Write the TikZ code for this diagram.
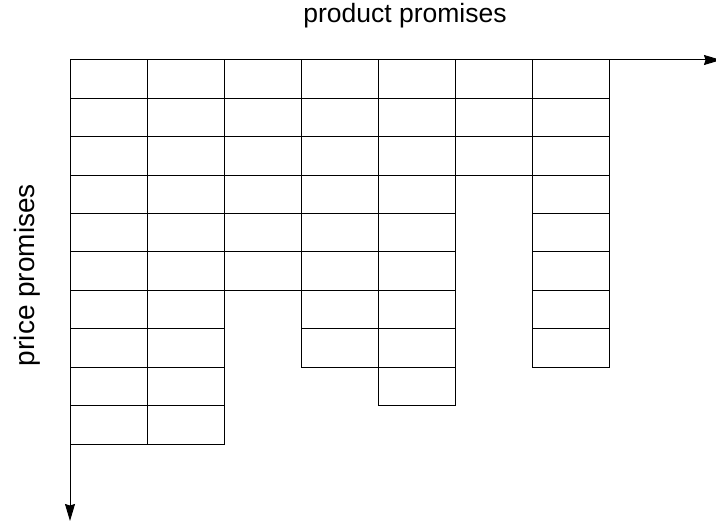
\documentclass[tikz,border=0pt]{standalone}
\usepackage{fontspec}
\setmainfont{Liberation Sans}
\usetikzlibrary{arrows.meta}
\begin{document}
\begin{tikzpicture}[x=1pt,y=1pt,
  cell/.style={draw=black, line width=1pt, inner sep=0pt, outer sep=0pt,
    minimum width=77.14pt, minimum height=38.4pt, anchor=north west},
  axis/.style={draw=black, line width=1pt, -{Stealth[length=17pt,width=10pt,inset=1.5pt]}},
  axislabel/.style={font=\fontsize{26.5}{30}\selectfont, inner sep=0pt}]
\useasboundingbox (0,0) rectangle (716,-524);
\begin{scope}
\clip (0,0) rectangle (716,-524);
\foreach \c/\h in {0/10,1/10,2/6,3/8,4/9,5/3,6/8} {
  \foreach \r in {1,...,\h} {
    \node[cell] (c\c r\r) at ({70+\c*77.14}, {-60-(\r-1)*38.4}) {};
  }
}
\coordinate (O) at (70,-60);
\coordinate (X) at (721,-60);
\coordinate (Y) at (70,-521);
\draw[axis] (O) -- (X);
\draw[axis] (O) -- (Y);
\end{scope}
\node[axislabel] (xl) at (405,-16) {product promises};
\node[axislabel, font=\fontsize{28}{32}\selectfont, rotate=90] (yl) at (27,-275) {price promises};
\end{tikzpicture}
\end{document}
